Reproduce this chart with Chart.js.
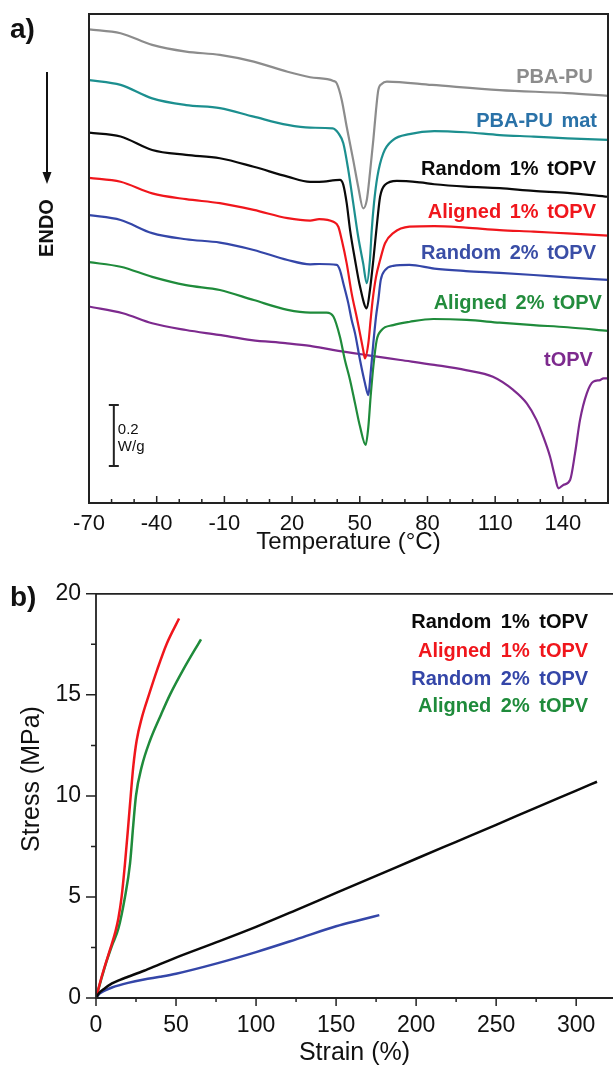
<!DOCTYPE html>
<html>
<head>
<meta charset="utf-8">
<script src="https://cdn.jsdelivr.net/npm/chart.js@4.4.1/dist/chart.umd.min.js"></script>
<style>
  html, body { margin: 0; padding: 0; background: #fff; overflow: hidden; }
  #wrap { position: relative; width: 614px; height: 1068px; }
  canvas { position: absolute; left: 0; }
  #dsc { top: 0; }
  #tensile { top: 565px; }
</style>
</head>
<body>
<div id="wrap">
  <canvas id="dsc" width="614" height="565"></canvas>
  <canvas id="tensile" width="614" height="503"></canvas>
</div>
<script>
// (a) DSC heating scans: [temperature °C, heat flow W/g], curves stacked with offsets
const tempTicks = [-70, -40, -10, 20, 50, 80, 110, 140];

const pbaPu = [[-70,1.550],[-56,1.537],[-42,1.499],[-27,1.477],[-12,1.466],[3,1.444],[18,1.411],[28,1.393],[38.3,1.381],[39.8,1.373],[42,1.319],[44.2,1.231],[47.1,1.122],[49.3,1.035],[51.5,0.964],[53.1,0.991],[54.5,1.079],[56,1.188],[57.2,1.286],[58.2,1.351],[59.7,1.371],[62,1.379],[82,1.368],[112,1.351],[142,1.341],[160,1.332]];
const pbaPuMat = [[-70,1.384],[-56,1.368],[-42,1.324],[-27,1.302],[-12,1.292],[3,1.264],[18,1.237],[28,1.228],[38,1.226],[40.5,1.210],[42.7,1.177],[44.9,1.090],[47.1,0.981],[49.3,0.871],[51.5,0.784],[53.1,0.719],[54.5,0.795],[55.3,0.893],[56.3,0.981],[57.8,1.068],[60.4,1.144],[64.8,1.188],[72,1.207],[83,1.217],[97,1.213],[112,1.204],[127,1.199],[142,1.193],[160,1.188]];
const random1 = [[-70,1.212],[-56,1.199],[-42,1.155],[-27,1.139],[-12,1.128],[3,1.100],[18,1.068],[28,1.051],[32,1.051],[41.2,1.057],[42.7,1.041],[44.2,0.981],[45.7,0.893],[47.9,0.795],[50.1,0.708],[53.1,0.637],[54.5,0.697],[56,0.795],[57.8,0.926],[59,1.002],[61.2,1.041],[66.4,1.054],[76.7,1.049],[83,1.043],[97,1.035],[112,1.030],[127,1.021],[142,1.015],[160,1.002]];
const aligned1 = [[-70,1.064],[-56,1.051],[-42,1.013],[-27,0.994],[-12,0.981],[3,0.959],[18,0.932],[28,0.924],[32,0.929],[38.3,0.920],[40.5,0.904],[42,0.861],[44.2,0.784],[46.4,0.686],[48.9,0.599],[51.5,0.501],[52.3,0.473],[53.8,0.523],[54.8,0.599],[55.7,0.664],[57.2,0.740],[59,0.795],[61.2,0.850],[64.8,0.883],[72,0.904],[83,0.906],[97,0.901],[112,0.893],[127,0.888],[142,0.882],[160,0.875]];
const random2 = [[-70,0.942],[-56,0.926],[-42,0.883],[-27,0.863],[-12,0.852],[3,0.828],[18,0.795],[28,0.781],[32,0.782],[39.8,0.779],[41.2,0.762],[42.7,0.719],[44.9,0.654],[46.4,0.599],[47.9,0.555],[50.1,0.468],[52.3,0.392],[53.8,0.353],[54.8,0.424],[56,0.523],[57.2,0.610],[58.2,0.664],[59.3,0.730],[61.2,0.762],[64.8,0.776],[72,0.779],[83,0.767],[97,0.759],[112,0.753],[127,0.746],[142,0.738],[160,0.730]];
const aligned2 = [[-70,0.788],[-56,0.773],[-42,0.740],[-27,0.713],[-12,0.697],[3,0.664],[18,0.632],[28,0.623],[35.3,0.623],[38.3,0.610],[41.2,0.544],[43.4,0.468],[45.7,0.402],[47.9,0.326],[50.1,0.250],[52.6,0.190],[53.8,0.250],[54.8,0.348],[56,0.446],[57.5,0.533],[59.7,0.566],[64.8,0.582],[72.2,0.593],[82.6,0.602],[97.4,0.599],[112,0.590],[127,0.582],[142,0.575],[160,0.563]];
const tOPV = [[-70,0.643],[-55,0.621],[-42,0.588],[-27,0.566],[-12.5,0.550],[2,0.533],[17,0.523],[28,0.514],[38,0.501],[53,0.484],[68,0.468],[83,0.452],[97,0.435],[109,0.413],[118,0.370],[124,0.326],[128.3,0.272],[131.3,0.217],[134.3,0.152],[136.5,0.086],[138,0.048],[140.2,0.059],[143.2,0.075],[145.4,0.163],[147.6,0.272],[150.6,0.359],[153.5,0.397],[156.5,0.402],[158,0.408],[160,0.408]];

const dscNames = ['PBA-PU', 'PBA-PU mat', 'Random 1% tOPV', 'Aligned 1% tOPV', 'Random 2% tOPV', 'Aligned 2% tOPV', 'tOPV'];
const dscCurves = [pbaPu, pbaPuMat, random1, aligned1, random2, aligned2, tOPV];

// (b) tensile tests: strain %, stress MPa
const strainTicks = [0, 50, 100, 150, 200, 250, 300];
const stressTicks = [0, 5, 10, 15, 20];

const strainR1 = [0, 2, 5, 10, 15, 20, 30, 40, 50, 75, 100, 125, 150, 175, 200, 225, 250, 275, 300, 313];
const stressR1 = [0, 0.25, 0.45, 0.72, 0.9, 1.05, 1.35, 1.68, 2.0, 2.75, 3.52, 4.35, 5.2, 6.04, 6.89, 7.73, 8.57, 9.42, 10.26, 10.7];
const strainA1 = [0, 3, 6, 9, 12, 14, 16, 18.1, 20.2, 21.7, 23.3, 25.4, 28.6, 33.1, 38.3, 44.2, 51.9];
const stressA1 = [0, 0.9, 1.7, 2.45, 3.25, 3.95, 5.0, 6.65, 8.58, 10.02, 11.46, 12.74, 13.86, 15.01, 16.26, 17.53, 18.78];
const strainR2 = [0, 2, 5, 10, 20, 30, 40, 50, 75, 100, 125, 150, 165, 177];
const stressR2 = [0, 0.2, 0.35, 0.52, 0.75, 0.92, 1.05, 1.2, 1.7, 2.27, 2.9, 3.55, 3.86, 4.1];
const strainA2 = [0, 3, 6.7, 10, 14, 18.1, 21.25, 23.3, 25, 28.6, 33.75, 40.6, 46.25, 54.6, 65.6];
const stressA2 = [0, 0.85, 1.84, 2.6, 3.44, 5.0, 6.65, 8.58, 10.02, 11.46, 12.74, 14.02, 15.01, 16.26, 17.75];

const tensileNames = ['Random 1% tOPV', 'Aligned 1% tOPV', 'Random 2% tOPV', 'Aligned 2% tOPV'];

const FONT = '"Liberation Sans", Arial, Helvetica, sans-serif';
const dscColors = ['#8c8c8c', '#1c8f8f', '#0a0a0a', '#f0161c', '#3446a8', '#1f8b3b', '#7d2a8e'];
const dscLabelColors = ['#8c8c8c', '#2a72a8', '#0a0a0a', '#f0161c', '#3a4ea6', '#238c3d', '#7d2a8e'];
// label anchors [right edge temperature, heat flow]
const dscLabelAt = [[153.3,1.391],[155.1,1.247],[154.7,1.090],[154.7,0.949],[154.7,0.818],[157.3,0.654],[153.3,0.465]];
const tensileColors = ['#0a0a0a', '#f0161c', '#3446a8', '#1f8b3b'];

const dscDecor = {
  id: 'dscDecor',
  afterDatasetsDraw(chart) {
    const { ctx, chartArea: a, scales: { x, y } } = chart;
    ctx.save();
    ctx.strokeStyle = '#222';
    ctx.lineWidth = 2;
    ctx.strokeRect(a.left, a.top, a.right - a.left, a.bottom - a.top);

    // inward ticks, minor every 10 °C
    ctx.lineWidth = 1.5;
    ctx.beginPath();
    for (let t = -70; t <= 160; t += 10) {
      const px = x.getPixelForValue(t);
      const len = tempTicks.includes(t) ? 7 : 4;
      ctx.moveTo(px, a.bottom);
      ctx.lineTo(px, a.bottom - len);
    }
    ctx.stroke();

    // 0.2 W/g scale bar
    const bx = x.getPixelForValue(-59);
    const b0 = y.getPixelForValue(0.121);
    const b1 = y.getPixelForValue(0.321);
    ctx.lineWidth = 2;
    ctx.beginPath();
    ctx.moveTo(bx, b0); ctx.lineTo(bx, b1);
    ctx.moveTo(bx - 5, b0); ctx.lineTo(bx + 5, b0);
    ctx.moveTo(bx - 5, b1); ctx.lineTo(bx + 5, b1);
    ctx.stroke();
    ctx.fillStyle = '#111';
    ctx.font = '15px ' + FONT;
    ctx.textAlign = 'left';
    ctx.textBaseline = 'middle';
    ctx.fillText('0.2', bx + 4, (b0 + b1) / 2 - 6);
    ctx.fillText('W/g', bx + 4, (b0 + b1) / 2 + 11);

    // curve names
    ctx.font = 'bold 20px ' + FONT;
    ctx.wordSpacing = '3px';
    ctx.textAlign = 'right';
    dscNames.forEach((name, i) => {
      ctx.fillStyle = dscLabelColors[i];
      ctx.fillText(name, x.getPixelForValue(dscLabelAt[i][0]), y.getPixelForValue(dscLabelAt[i][1]));
    });
    ctx.wordSpacing = '0px';

    // panel letter and ENDO arrow
    ctx.fillStyle = '#111';
    ctx.textAlign = 'left';
    ctx.font = 'bold 28px ' + FONT;
    ctx.fillText('a)', 10, 30);
    ctx.strokeStyle = '#111';
    ctx.lineWidth = 2;
    ctx.beginPath();
    ctx.moveTo(47, 72); ctx.lineTo(47, 175);
    ctx.stroke();
    ctx.beginPath();
    ctx.moveTo(47, 184); ctx.lineTo(42.5, 172); ctx.lineTo(51.5, 172); ctx.closePath();
    ctx.fill();
    ctx.translate(47, 228);
    ctx.rotate(-Math.PI / 2);
    ctx.textAlign = 'center';
    ctx.font = 'bold 20px ' + FONT;
    ctx.fillText('ENDO', 0, 0);
    ctx.restore();
  }
};

const tensileDecor = {
  id: 'tensileDecor',
  afterDatasetsDraw(chart) {
    const { ctx, chartArea: a, scales: { x, y } } = chart;
    ctx.save();
    ctx.strokeStyle = '#222';
    ctx.lineWidth = 1.8;
    ctx.beginPath();
    ctx.moveTo(a.left, a.top); ctx.lineTo(a.right, a.top);
    ctx.moveTo(a.left, a.top); ctx.lineTo(a.left, a.bottom); ctx.lineTo(a.right, a.bottom);
    ctx.stroke();

    // outward ticks with minor ticks halfway
    ctx.lineWidth = 1.5;
    ctx.beginPath();
    for (let s = 0; s <= 320; s += 25) {
      const px = x.getPixelForValue(s);
      const len = strainTicks.includes(s) ? 8 : 4;
      ctx.moveTo(px, a.bottom); ctx.lineTo(px, a.bottom + len);
    }
    for (let m = 0; m <= 20; m += 2.5) {
      const py = y.getPixelForValue(m);
      const len = stressTicks.includes(m) ? 10 : 5;
      ctx.moveTo(a.left, py); ctx.lineTo(a.left - len, py);
    }
    ctx.stroke();

    // names
    ctx.font = 'bold 20px ' + FONT;
    ctx.wordSpacing = '4px';
    ctx.textAlign = 'right';
    ctx.textBaseline = 'middle';
    const lx = x.getPixelForValue(307.5);
    const ly = [18.57, 17.13, 15.78, 14.43];
    tensileNames.forEach((name, i) => {
      ctx.fillStyle = tensileColors[i];
      ctx.fillText(name, lx, y.getPixelForValue(ly[i]));
    });
    ctx.wordSpacing = '0px';

    ctx.fillStyle = '#111';
    ctx.textAlign = 'left';
    ctx.font = 'bold 28px ' + FONT;
    ctx.fillText('b)', 10, 33);

    ctx.translate(32, 214);
    ctx.rotate(-Math.PI / 2);
    ctx.textAlign = 'center';
    ctx.font = '25px ' + FONT;
    ctx.fillText('Stress (MPa)', 0, 0);
    ctx.restore();
  }
};

new Chart(document.getElementById('dsc'), {
  type: 'line',
  data: {
    datasets: dscCurves.map((c, i) => ({
      label: dscNames[i],
      data: c.map(p => ({ x: p[0], y: p[1] })),
      borderColor: dscColors[i],
      borderWidth: 2.2,
      pointRadius: 0,
      cubicInterpolationMode: 'monotone'
    }))
  },
  options: {
    responsive: false,
    animation: false,
    devicePixelRatio: 1,
    layout: { padding: { left: 89, top: 14, right: 6, bottom: 0 } },
    plugins: { legend: { display: false }, tooltip: { enabled: false } },
    scales: {
      x: {
        type: 'linear', min: -70, max: 160,
        afterBuildTicks: s => { s.ticks = tempTicks.map(v => ({ value: v })); },
        afterFit: s => { s.height = 62; },
        grid: { display: false, drawTicks: false },
        border: { display: false },
        ticks: { font: { family: FONT, size: 22 }, color: '#111', padding: 8, maxRotation: 0, autoSkip: false },
        title: { display: true, text: 'Temperature (°C)', color: '#111', font: { family: FONT, size: 24 }, padding: { top: 0, bottom: 8 } }
      },
      y: { type: 'linear', min: 0, max: 1.6, display: false }
    }
  },
  plugins: [dscDecor]
});

const pts = (xs, ys) => xs.map((v, i) => ({ x: v, y: ys[i] }));

new Chart(document.getElementById('tensile'), {
  type: 'line',
  data: {
    datasets: [
      pts(strainR1, stressR1), pts(strainA1, stressA1), pts(strainR2, stressR2), pts(strainA2, stressA2)
    ].map((d, i) => ({
      label: tensileNames[i],
      data: d,
      borderColor: tensileColors[i],
      borderWidth: 2.5,
      pointRadius: 0,
      cubicInterpolationMode: 'monotone'
    }))
  },
  options: {
    responsive: false,
    animation: false,
    devicePixelRatio: 1,
    layout: { padding: { left: 0, top: 16, right: 1, bottom: 0 } },
    plugins: { legend: { display: false }, tooltip: { enabled: false } },
    scales: {
      x: {
        type: 'linear', min: 0, max: 323,
        afterBuildTicks: s => { s.ticks = strainTicks.map(v => ({ value: v })); },
        afterFit: s => { s.height = 70; },
        grid: { display: false, drawTicks: false },
        border: { display: false },
        ticks: { font: { family: FONT, size: 23 }, color: '#111', padding: 14, maxRotation: 0, autoSkip: false },
        title: { display: true, text: 'Strain (%)', color: '#111', font: { family: FONT, size: 25 }, padding: { top: 0, bottom: 0 } }
      },
      y: {
        type: 'linear', min: 0, max: 20,
        afterBuildTicks: s => { s.ticks = stressTicks.map(v => ({ value: v })); },
        afterFit: s => { s.width = 96; },
        grid: { display: false, drawTicks: false },
        border: { display: false },
        ticks: { font: { family: FONT, size: 23 }, color: '#111', padding: 15 }
      }
    }
  },
  plugins: [tensileDecor]
});
</script>
</body>
</html>
